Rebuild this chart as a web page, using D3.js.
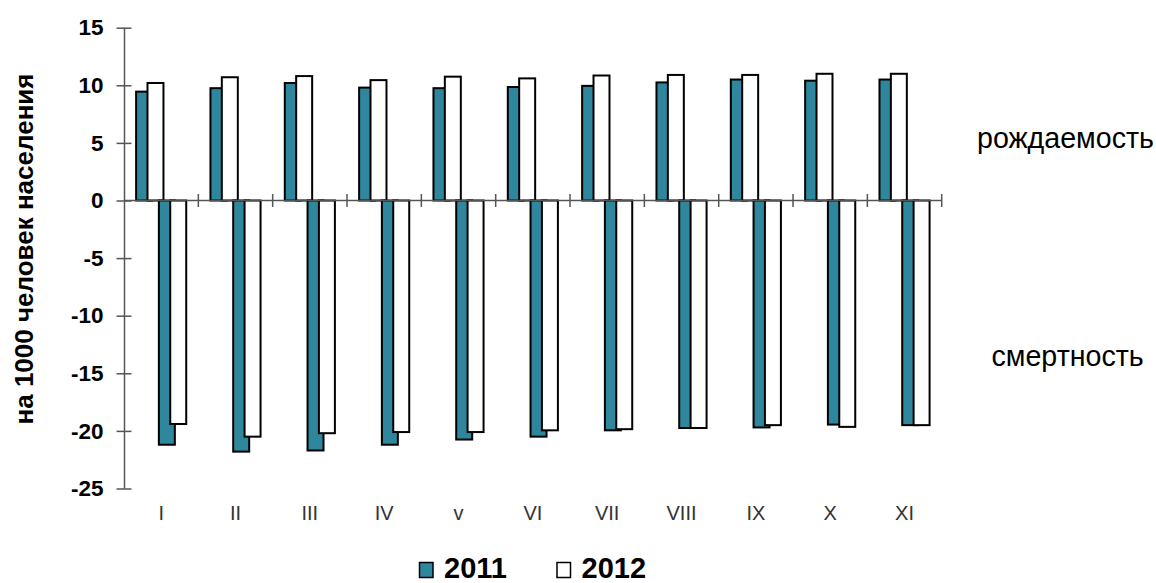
<!DOCTYPE html>
<html>
<head>
<meta charset="utf-8">
<script src="https://cdn.jsdelivr.net/npm/d3@7"></script>
<style>
  body { margin: 0; background: #fff; }
  svg text { font-family: Arial, "Liberation Sans", sans-serif; }
</style>
</head>
<body>
<div id="graph"></div>
<script>
// months (roman numerals as on the original, "v" is lowercase there)
const categories = ['I', 'II', 'III', 'IV', 'v', 'VI', 'VII', 'VIII', 'IX', 'X', 'XI'];

// per 1000 people
const birth2011 = [9.45, 9.75, 10.2, 9.8, 9.75, 9.85, 9.95, 10.25, 10.5, 10.4, 10.5];
const birth2012 = [10.2, 10.7, 10.8, 10.45, 10.75, 10.6, 10.85, 10.9, 10.9, 11.0, 11.0];
const death2011 = [-21.2, -21.8, -21.7, -21.2, -20.75, -20.5, -19.95, -19.75, -19.7, -19.45, -19.5];
const death2012 = [-19.4, -20.5, -20.2, -20.1, -20.1, -19.95, -19.85, -19.75, -19.5, -19.65, -19.5];

const yTicks = [15, 10, 5, 0, -5, -10, -15, -20, -25];
const legendYears = ['2011', '2012'];

class BarChart {
    constructor() {
        this.width = 1156;
        this.height = 583;
        this.teal = '#2f879e';

        this.svg = d3.select('#graph').append('svg')
            .attr('width', this.width)
            .attr('height', this.height);

        this.x0 = d3.scaleBand()
            .domain(categories)
            .range([124, 941.7]);

        this.y = d3.scaleLinear()
            .domain([-25, 15])
            .range([488.5, 27.7]);

        // four series side by side in each month, overlapping like excel does
        const bw = this.x0.bandwidth();
        this.barW = bw * 0.215;
        this.step = bw * 0.153;
        this.x1 = d3.scalePoint()
            .domain(['b11', 'b12', 'd11', 'd12'])
            .range([0, 3 * this.step]);
        this.pad = (bw - (3 * this.step + this.barW)) / 2;

        this.series = [
            { key: 'b11', values: birth2011, fill: this.teal },
            { key: 'b12', values: birth2012, fill: '#fff' },
            { key: 'd11', values: death2011, fill: this.teal },
            { key: 'd12', values: death2012, fill: '#fff' }
        ];

        this.drawBars();
        this.drawAxes();
        this.drawLabels();
        this.drawLegend();
    }

    drawBars() {
        const g = this.svg.append('g').attr('class', 'bars');
        this.series.forEach(s => {
            g.append('g').selectAll('rect')
                .data(s.values)
                .join('rect')
                .attr('x', (d, i) => this.x0(categories[i]) + this.pad + this.x1(s.key))
                .attr('y', d => this.y(Math.max(0, d)))
                .attr('width', this.barW)
                .attr('height', d => Math.abs(this.y(d) - this.y(0)))
                .attr('fill', s.fill)
                .attr('stroke', '#000')
                .attr('stroke-width', 2);
        });
    }

    drawAxes() {
        const yAxis = this.svg.append('g')
            .attr('transform', 'translate(124.5,0)')
            .call(d3.axisLeft(this.y).tickValues(yTicks).tickSize(8).tickPadding(13)
                .tickFormat(d => String(d)));
        yAxis.select('.domain').attr('stroke', '#555').attr('stroke-width', 1.5)
            .attr('d', 'M0,' + this.y(15) + 'V' + this.y(-25));
        yAxis.selectAll('.tick line').attr('stroke', '#555').attr('stroke-width', 1.5)
            .attr('x1', 7);
        yAxis.selectAll('.tick text')
            .attr('font-size', 22.5)
            .attr('font-weight', 'bold')
            .attr('fill', '#000')
            .attr('font-family', 'Arial, "Liberation Sans", sans-serif');

        // zero line with month separators
        const boundaries = categories.map(c => this.x0(c)).concat([this.x0.range()[1]]).slice(1);
        const x = this.svg.append('g').attr('class', 'x-axis');
        x.append('line')
            .attr('x1', this.x0.range()[0]).attr('x2', this.x0.range()[1])
            .attr('y1', this.y(0)).attr('y2', this.y(0))
            .attr('stroke', '#555').attr('stroke-width', 1.5);
        x.selectAll('.sep')
            .data(boundaries)
            .join('line')
            .attr('class', 'sep')
            .attr('x1', d => d).attr('x2', d => d)
            .attr('y1', this.y(0) - 6.5).attr('y2', this.y(0) + 6.5)
            .attr('stroke', '#555').attr('stroke-width', 1.5);

        x.selectAll('.cat')
            .data(categories)
            .join('text')
            .attr('class', 'cat')
            .attr('x', d => this.x0(d) + this.x0.bandwidth() / 2)
            .attr('y', 520)
            .attr('text-anchor', 'middle')
            .attr('font-size', 20)
            .attr('fill', '#333')
            .text(d => d);
    }

    drawLabels() {
        this.svg.append('text')
            .attr('transform', 'translate(33,' + 249 + ') rotate(-90)')
            .attr('text-anchor', 'middle')
            .attr('font-size', 26)
            .attr('font-weight', 'bold')
            .text('на 1000 человек населения');

        this.svg.append('text')
            .attr('x', 977).attr('y', 147.5)
            .attr('font-size', 28.6)
            .text('рождаемость');

        this.svg.append('text')
            .attr('x', 991.5).attr('y', 366)
            .attr('font-size', 28.6)
            .text('смертность');
    }

    drawLegend() {
        const items = [
            { label: legendYears[0], fill: this.teal, x: 419.5 },
            { label: legendYears[1], fill: '#fff', x: 557 }
        ];
        const lg = this.svg.append('g').attr('class', 'legend');
        items.forEach(it => {
            lg.append('rect')
                .attr('x', it.x).attr('y', 562.5)
                .attr('width', 13.5).attr('height', 15)
                .attr('fill', it.fill)
                .attr('stroke', '#000').attr('stroke-width', 1.5);
            lg.append('text')
                .attr('x', it.x + 24.5).attr('y', 578)
                .attr('font-size', 29)
                .attr('font-weight', 'bold')
                .text(it.label);
        });
    }
}

const chart = new BarChart();
</script>
</body>
</html>
